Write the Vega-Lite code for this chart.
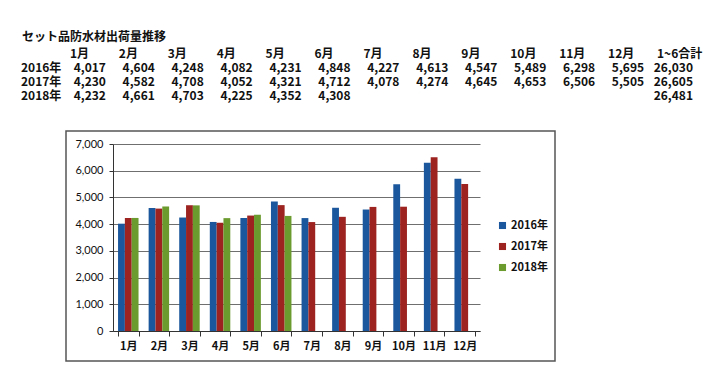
{
  "$schema": "https://vega.github.io/schema/vega-lite/v6.json",
  "padding": {"left": 21, "top": 31, "right": 5, "bottom": 5},
  "background": "white",
  "bounds": "flush",
  "spacing": 28,
  "config": {
    "font": "Noto Sans CJK JP",
    "view": {"stroke": null},
    "text": {"font": "Noto Sans CJK JP", "fontWeight": "bold", "fontSize": 12, "color": "#111", "baseline": "middle"}
  },
  "datasets": {
    "bars": [
      {"month": "1月", "year": "2016年", "value": 4017},
      {"month": "2月", "year": "2016年", "value": 4604},
      {"month": "3月", "year": "2016年", "value": 4248},
      {"month": "4月", "year": "2016年", "value": 4082},
      {"month": "5月", "year": "2016年", "value": 4231},
      {"month": "6月", "year": "2016年", "value": 4848},
      {"month": "7月", "year": "2016年", "value": 4227},
      {"month": "8月", "year": "2016年", "value": 4613},
      {"month": "9月", "year": "2016年", "value": 4547},
      {"month": "10月", "year": "2016年", "value": 5489},
      {"month": "11月", "year": "2016年", "value": 6298},
      {"month": "12月", "year": "2016年", "value": 5695},
      {"month": "1月", "year": "2017年", "value": 4230},
      {"month": "2月", "year": "2017年", "value": 4582},
      {"month": "3月", "year": "2017年", "value": 4708},
      {"month": "4月", "year": "2017年", "value": 4052},
      {"month": "5月", "year": "2017年", "value": 4321},
      {"month": "6月", "year": "2017年", "value": 4712},
      {"month": "7月", "year": "2017年", "value": 4078},
      {"month": "8月", "year": "2017年", "value": 4274},
      {"month": "9月", "year": "2017年", "value": 4645},
      {"month": "10月", "year": "2017年", "value": 4653},
      {"month": "11月", "year": "2017年", "value": 6506},
      {"month": "12月", "year": "2017年", "value": 5505},
      {"month": "1月", "year": "2018年", "value": 4232},
      {"month": "2月", "year": "2018年", "value": 4661},
      {"month": "3月", "year": "2018年", "value": 4703},
      {"month": "4月", "year": "2018年", "value": 4225},
      {"month": "5月", "year": "2018年", "value": 4352},
      {"month": "6月", "year": "2018年", "value": 4308}
    ],
    "totals": [
      {"month": "1~6合計", "year": "2016年", "value": 26030},
      {"month": "1~6合計", "year": "2017年", "value": 26605},
      {"month": "1~6合計", "year": "2018年", "value": 26481}
    ],
    "labels": [
      {"month": "1月", "year": "月", "label": "1月"},
      {"month": "2月", "year": "月", "label": "2月"},
      {"month": "3月", "year": "月", "label": "3月"},
      {"month": "4月", "year": "月", "label": "4月"},
      {"month": "5月", "year": "月", "label": "5月"},
      {"month": "6月", "year": "月", "label": "6月"},
      {"month": "7月", "year": "月", "label": "7月"},
      {"month": "8月", "year": "月", "label": "8月"},
      {"month": "9月", "year": "月", "label": "9月"},
      {"month": "10月", "year": "月", "label": "10月"},
      {"month": "11月", "year": "月", "label": "11月"},
      {"month": "12月", "year": "月", "label": "12月"},
      {"month": "1~6合計", "year": "月", "label": "1~6合計"},
      {"month": "年", "year": "2016年", "label": "2016年"},
      {"month": "年", "year": "2017年", "label": "2017年"},
      {"month": "年", "year": "2018年", "label": "2018年"}
    ]
  },
  "vconcat": [
    {
      "width": 640,
      "height": 56,
      "title": {"text": "セット品防水材出荷量推移", "anchor": "start", "frame": "group", "dx": -44, "offset": -9, "font": "Noto Sans CJK JP", "fontSize": 12, "fontWeight": "bold", "color": "#111", "baseline": "bottom"},
      "encoding": {
        "x": {"field": "month", "type": "ordinal", "axis": null,
          "scale": {"type": "point", "domain": ["年", "1月", "2月", "3月", "4月", "5月", "6月", "7月", "8月", "9月", "10月", "11月", "12月", "1~6合計"], "range": [-9, 627], "padding": 0}},
        "y": {"field": "year", "type": "ordinal", "axis": null,
          "scale": {"type": "point", "domain": ["月", "2016年", "2017年", "2018年"], "padding": 0.5}}
      },
      "layer": [
        {"data": {"name": "labels"}, "mark": {"type": "text", "align": "left", "dx": -36}, "encoding": {"text": {"field": "label", "type": "nominal"}}},
        {"data": {"name": "bars"}, "mark": {"type": "text", "align": "right"}, "encoding": {"text": {"field": "value", "type": "quantitative", "format": ",.0f"}}},
        {"data": {"name": "totals"}, "mark": {"type": "text", "align": "right"}, "encoding": {"text": {"field": "value", "type": "quantitative", "format": ",.0f"}}}
      ]
    },
    {
      "width": 489,
      "height": 230,
      "view": {"stroke": "#555", "strokeWidth": 1.5},
      "data": {"name": "bars"},
      "mark": {"type": "bar"},
      "encoding": {
        "x": {"field": "month", "type": "nominal", "title": null,
          "sort": ["1月", "2月", "3月", "4月", "5月", "6月", "7月", "8月", "9月", "10月", "11月", "12月"],
          "scale": {"range": [47, 414], "paddingInner": 0.33, "paddingOuter": 0.165},
          "axis": {"offset": -30, "tickBand": "extent", "labelAngle": 0, "domainColor": "#333", "tickColor": "#333", "tickSize": 5, "labelPadding": 4, "labelFont": "Noto Sans CJK JP", "labelFontWeight": "bold", "labelFontSize": 11, "labelColor": "#111", "grid": false}},
        "xOffset": {"field": "year", "type": "nominal", "scale": {"domain": ["2016年", "2017年", "2018年"]}},
        "y": {"field": "value", "type": "quantitative", "title": null,
          "scale": {"domain": [0, 7000], "range": [200, 13], "nice": false},
          "axis": {"offset": -47, "values": [0, 1000, 2000, 3000, 4000, 5000, 6000, 7000], "format": ",.0f", "domainColor": "#333", "tickColor": "#333", "tickSize": 4, "labelPadding": 6, "labelFont": "Lato", "labelFontSize": 11, "labelColor": "#111", "grid": true, "gridColor": "#6f6f6f", "gridWidth": 1}},
        "color": {"field": "year", "type": "nominal", "title": null,
          "scale": {"domain": ["2016年", "2017年", "2018年"], "range": ["#1B579C", "#9C2320", "#6B9A2E"]},
          "legend": {"orient": "none", "legendX": 431, "legendY": 173, "direction": "vertical", "symbolType": "square", "symbolSize": 50, "symbolStrokeWidth": 0, "labelFont": "Noto Sans CJK JP", "labelFontWeight": "bold", "labelFontSize": 11, "labelColor": "#111", "rowPadding": 9, "labelOffset": 3}}
      }
    }
  ]
}
